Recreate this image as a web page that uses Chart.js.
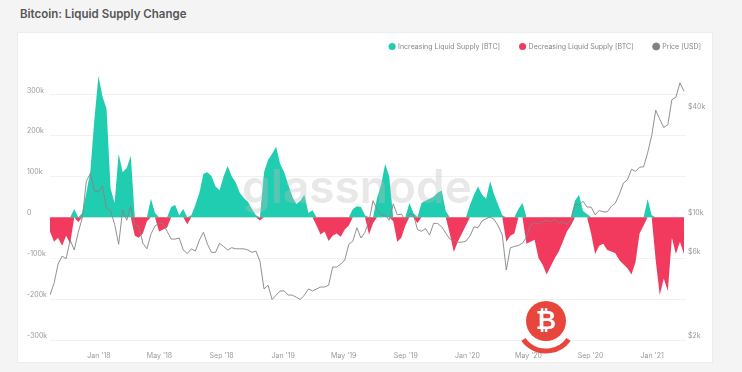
<!DOCTYPE html>
<html><head><meta charset="utf-8">
<script src="https://cdn.jsdelivr.net/npm/chart.js@4"></script>
<style>
html,body{margin:0;padding:0;background:#f4f4f5;width:742px;height:372px;overflow:hidden;font-family:Inter,Roboto,sans-serif;}
#title{position:absolute;left:20px;top:7px;font-size:11.5px;font-weight:600;color:#555;letter-spacing:0;}
#panel{position:absolute;left:18px;top:33px;width:694px;height:329px;background:#fff;box-shadow:0 0 0 1px #ececec;}
canvas{display:block;}
</style></head>
<body>
<div id="title">Bitcoin: Liquid Supply Change</div>
<div id="panel"><canvas id="c" width="694" height="329"></canvas></div>
<script>
const startDate = '2017-09-26';
const stepDays = 8;
const tickDates = ['2018-01-01','2018-05-01','2018-09-01','2019-01-01','2019-05-01','2019-09-01','2020-01-01','2020-05-01','2020-09-01','2021-01-01'];
const tickLabels = ["Jan '18","May '18","Sep '18","Jan '19","May '19","Sep '19","Jan '20","May '20","Sep '20","Jan '21"];
const supplyTicks = [-300,-200,-100,0,100,200,300];
const priceTicks = [2000,6000,10000,40000];
const seriesNames = ['Increasing Liquid Supply [BTC]','Decreasing Liquid Supply [BTC]','Price [USD]'];

// liquid supply change, thousands of BTC, one value per 8 days
const liquidSupplyChangeK = [
 -35,-60,-50,-70,-45,-65,20,-12,10,60,
 113,240,345,295,265,70,35,155,110,120,
 150,-45,-50,-40,-10,45,10,-35,-30,-25,
 25,30,5,20,-17,5,30,60,106,110,
 100,75,66,100,125,100,85,60,47,38,
 20,5,-8,110,140,155,172,130,110,80,
 50,32,40,55,10,17,-20,-42,-35,-58,
 -45,-40,-48,-30,-20,20,27,25,5,-42,
 -15,47,80,130,100,-10,-60,-50,-20,35,
 10,-15,35,40,45,50,60,65,15,-40,
 -85,-60,-40,-20,30,55,75,55,45,88,
 55,30,5,-60,-45,-40,20,35,-65,-60,
 -55,-100,-116,-140,-120,-100,-84,-60,-35,-20,
 40,55,15,8,-40,-90,-70,-65,-80,-84,
 -88,-105,-115,-125,-140,-110,-40,-20,44,5,
 -105,-190,-150,-180,-50,-90,-60,-90
];
// BTC price, thousands of USD, same dates
const priceUSDk = [
 3.6,4.2,5.4,6.0,5.8,7.4,6.5,8.2,9.9,16.0,
 17.7,14.0,14.0,15.0,11.2,10.9,9.1,7.0,11.0,9.6,
 11.5,9.1,8.9,7.1,6.6,8.0,8.9,9.2,9.2,8.3,
 7.5,7.5,7.6,6.5,6.2,6.6,6.4,7.4,8.2,7.0,
 6.3,6.3,7.1,6.8,6.5,6.7,6.6,6.6,6.6,6.5,
 6.3,6.4,5.6,3.9,4.1,3.4,3.6,3.8,3.8,3.6,
 3.6,3.5,3.4,3.6,3.9,3.8,3.9,4.0,4.0,4.1,
 5.2,5.2,5.4,5.7,7.0,7.3,8.7,7.6,8.2,9.5,
 12.4,11.0,10.3,10.3,9.6,11.9,10.3,10.4,9.6,10.4,
 10.3,8.5,8.3,8.6,7.9,9.2,9.2,8.8,8.1,7.5,
 7.4,7.2,7.2,7.3,7.8,8.8,8.7,9.5,9.8,10.0,
 9.7,8.9,7.9,5.0,6.7,6.8,6.9,7.1,7.7,9.0,
 9.3,9.1,9.4,9.6,9.4,9.7,9.2,9.4,9.1,9.6,
 11.8,11.7,12.3,11.4,11.4,10.3,10.9,10.7,10.7,11.5,
 12.0,13.5,15.6,16.3,18.7,18.2,19.2,19.3,23.2,29.0,
 40.5,36.0,32.3,33.5,46.5,48.0,58.0,52.0
];

const DAY = 86400000;
const t0 = Date.parse(startDate + 'T00:00:00Z');
const dayOf = s => (Date.parse(s + 'T00:00:00Z') - t0) / DAY;
const xs = liquidSupplyChangeK.map((_, i) => i * stepDays);
const incData = liquidSupplyChangeK.map((v, i) => ({x: xs[i], y: v > 0 ? v : 0}));
const decData = liquidSupplyChangeK.map((v, i) => ({x: xs[i], y: v < 0 ? v : 0}));
const priceData = priceUSDk.map((v, i) => ({x: xs[i], y: v * 1000}));
const tickDays = tickDates.map(dayOf);

const TEAL = '#21cdb0', RED = '#f23a5f', GREY = '#858585';
const FONT = {family: 'Inter, Roboto, sans-serif', size: 7};

const decor = {
  id: 'decor',
  beforeInit(chart) {
    const orig = chart.legend.fit;
    chart.legend.fit = function () { orig.call(this); this.height = 53; };
  },
  afterLayout(chart) {
    chart.legend.right += 9;
  },
  afterDatasetsDraw(chart) {
    const ctx = chart.ctx;
    ctx.save();
    ctx.font = '600 46px Inter, sans-serif';
    ctx.fillStyle = 'rgba(190,190,190,0.35)';
    ctx.textAlign = 'center';
    ctx.textBaseline = 'middle';
    ctx.fillText('glassnode', 339, 156);
    ctx.restore();
  },
  afterDraw(chart) {
    const ctx = chart.ctx;
    const cx = 528, cy = 288;
    ctx.save();
    ctx.fillStyle = '#e8453c';
    ctx.beginPath(); ctx.arc(cx, cy, 20, 0, Math.PI * 2); ctx.fill();
    ctx.strokeStyle = '#e8453c'; ctx.lineWidth = 5;
    ctx.beginPath(); ctx.arc(cx, cy + 2, 28, Math.PI * 0.2, Math.PI * 0.8); ctx.stroke();
    ctx.fillStyle = '#fff';
    ctx.font = 'bold 25px "DejaVu Sans", sans-serif';
    ctx.textAlign = 'center'; ctx.textBaseline = 'middle';
    ctx.fillText('\u20BF', cx, cy + 1);
    ctx.restore();
  }
};

new Chart(document.getElementById('c'), {
  type: 'line',
  data: {
    datasets: [
      {label: seriesNames[0], data: incData, yAxisID: 'y', backgroundColor: TEAL, borderColor: TEAL, borderWidth: 0, pointRadius: 0, fill: 'origin', tension: 0, order: 2},
      {label: seriesNames[1], data: decData, yAxisID: 'y', backgroundColor: RED, borderColor: RED, borderWidth: 0, pointRadius: 0, fill: 'origin', tension: 0, order: 2},
      {label: seriesNames[2], data: priceData, yAxisID: 'y1', backgroundColor: '#808080', borderColor: GREY, borderWidth: 0.9, pointRadius: 0, fill: false, tension: 0, order: 1}
    ]
  },
  options: {
    responsive: false,
    animation: false,
    events: [],
    layout: {padding: {left: 9, right: 0, top: -10, bottom: 0}},
    plugins: {
      tooltip: {enabled: false},
      legend: {
        position: 'top', align: 'end',
        labels: {usePointStyle: true, pointStyle: 'circle', boxWidth: 5, boxHeight: 5, padding: 20, color: '#858585', font: FONT,
          sort: (a, b) => a.datasetIndex - b.datasetIndex}
      }
    },
    scales: {
      x: {
        type: 'linear', min: 0, max: 1260,
        afterFit: s => { s.height = 22; },
        grid: {display: false}, border: {display: false},
        afterBuildTicks: s => { s.ticks = tickDays.map(v => ({value: v})); },
        ticks: {autoSkip: false, maxRotation: 0, color: '#9a9a9a', font: FONT, padding: 4,
          callback: v => { const k = tickDays.indexOf(v); return k >= 0 ? tickLabels[k] : ''; }}
      },
      y: {
        position: 'left', min: -300, max: 345,
        afterFit: s => { s.width = 23; },
        afterBuildTicks: s => { s.ticks = supplyTicks.map(v => ({value: v})); },
        grid: {color: '#f1f1f1', drawTicks: false, lineWidth: 1}, border: {display: false},
        ticks: {crossAlign: 'far', color: '#9a9a9a', font: FONT, labelOffset: -4,
          callback: v => v === 0 ? '0' : v + 'k'}
      },
      y1: {
        type: 'logarithmic', position: 'right', min: 2000, max: 63400,
        afterFit: s => { s.width = 26; },
        afterBuildTicks: s => { s.ticks = priceTicks.map(v => ({value: v})); },
        grid: {display: false, drawTicks: false}, border: {display: false},
        ticks: {color: '#9a9a9a', font: FONT, padding: 2, labelOffset: -4,
          callback: v => '$' + (v / 1000) + 'k'}
      }
    }
  },
  plugins: [decor]
});
</script>
</body></html>
